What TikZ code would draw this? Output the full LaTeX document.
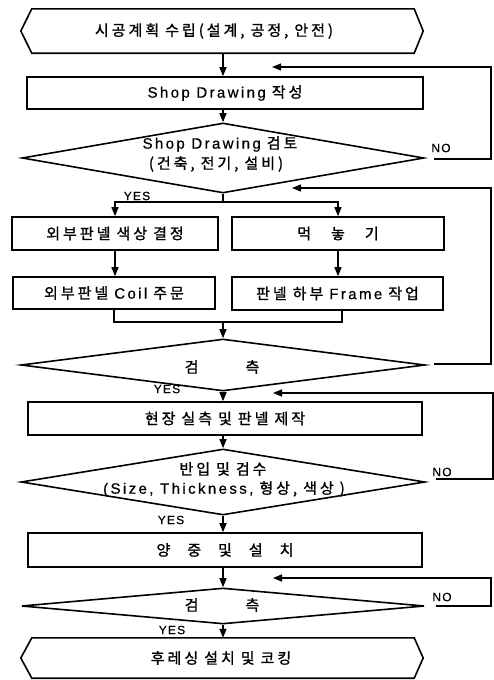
\documentclass[tikz,border=0pt]{standalone}
\usepackage{fontspec}
\setmainfont{Liberation Sans}
\newfontfamily\latfont[LetterSpace=16,FakeBold=0.6]{Liberation Sans}
\newfontfamily\labfont[LetterSpace=10,FakeBold=0.4]{Liberation Sans}
\newfontfamily\krfont[LetterSpace=20,FakeBold=1.2]{Noto Sans CJK KR}
\usetikzlibrary{arrows.meta,shapes.geometric,calc}
\newcommand\LatB{\fontsize{15}{17}\latfont}
\newcommand\KorB[1]{{\fontsize{15}{18}\krfont #1}}
\newcommand\Gap{\hspace{6pt}}
\tikzset{
  outline/.style={draw, line width=1.6pt, inner sep=0pt},
  box/.style={outline, rectangle},
  dia/.style={outline, diamond},
  conn/.style={line width=1.4pt},
  arr/.style={conn, -{Triangle[length=9pt,width=7pt]}},
  txt/.style={inner sep=0pt},
  lab/.style={inner sep=0pt, font=\fontsize{12}{13}\labfont}
}
\begin{document}
\begin{tikzpicture}[x=1pt,y=-1pt]
\useasboundingbox (0,0) rectangle (494,680);
% top terminal
\node[txt, minimum width=382pt, minimum height=44pt] (h1) at (223,31) {};
\draw[line width=1.6pt] (h1.north west) -- (h1.north east) -- ($(h1.east)+(9,0)$) -- (h1.south east) -- (h1.south west) -- ($(h1.west)+(-11,0)$) -- cycle;
\node[txt] (t0) at (214,31) {\KorB{시공계획\Gap 수립(설계,\Gap 공정,\Gap 안전)}};
% box 1
\node[box, minimum width=396pt, minimum height=32pt] (b1) at (225,93) {{\LatB Shop Drawing}\Gap\KorB{작성}};
% diamond 1
\node[dia, minimum width=402pt, minimum height=70pt] (d1) at (223,158) {};
\node[txt] (d1a) at (220,144) {{\LatB Shop Drawing}\Gap\KorB{검토}};
\node[txt] (d1b) at (216,164) {\KorB{(건축,\Gap 전기,\Gap 설비)}};
% split
\node[box, minimum width=206pt, minimum height=33pt] (b2a) at (115,233.5) {\KorB{외부판넬\Gap 색상\Gap 결정}};
\node[box, minimum width=212pt, minimum height=33pt] (b2b) at (338,233.5) {\KorB{먹\hspace{20pt}놓\hspace{20pt}기}};
\node[box, minimum width=202pt, minimum height=32pt] (b3a) at (114,293) {\KorB{외부판넬}\Gap{\LatB Coil}\Gap\KorB{주문}};
\node[box, minimum width=211pt, minimum height=33pt] (b3b) at (337.5,293.5) {\KorB{판넬\Gap 하부}\Gap{\LatB Frame}\Gap\KorB{작업}};
% diamond 2
\node[dia, minimum width=404pt, minimum height=52pt] (d2) at (223,365) {};
\node[txt] (d2a) at (222,367) {\KorB{검\hspace{47pt}측}};
% box 4
\node[box, minimum width=394pt, minimum height=33pt] (b4) at (225,418.5) {\KorB{현장\Gap 실측\Gap 및\Gap 판넬\Gap 제작}};
% diamond 3
\node[dia, minimum width=404pt, minimum height=66pt] (d3) at (223,482) {};
\node[txt] (d3a) at (223,469) {\KorB{반입\Gap 및\Gap 검수}};
\node[txt] (d3b) at (224,489) {{\LatB (Size, Thickness,}\Gap\KorB{형상,\Gap 색상\Gap)}};
% box 5
\node[box, minimum width=394pt, minimum height=34pt] (b5) at (225,550) {\KorB{양\hspace{17pt}중\hspace{17pt}및\hspace{17pt}설\hspace{17pt}치}};
% diamond 4
\node[dia, minimum width=403pt, minimum height=36pt] (d4) at (223,606) {};
\node[txt] (d4a) at (222,605) {\KorB{검\hspace{47pt}측}};
% bottom terminal
\node[txt, minimum width=382pt, minimum height=40pt] (h2) at (223,658) {};
\draw[line width=1.6pt] (h2.north west) -- (h2.north east) -- ($(h2.east)+(9,0)$) -- (h2.south east) -- (h2.south west) -- ($(h2.west)+(-11,0)$) -- cycle;
\node[txt] (t9) at (221,658) {\KorB{후레싱\Gap 설치\Gap 및\Gap 코킹}};
% labels
\node[lab] (y1) at (137,196) {YES};
\node[lab] (y2) at (167,389) {YES};
\node[lab] (y3) at (171,520) {YES};
\node[lab] (y4) at (172,630) {YES};
\node[lab] (n1) at (441,148) {NO};
\node[lab] (n3) at (442,472) {NO};
\node[lab] (n4) at (442,597) {NO};
% main flow
\draw[arr] (h1.south) -- (h1.south |- b1.north);
\draw[arr] (b1.south -| d1.north) -- (d1.north);
\coordinate (j1) at (223,202);
\draw[conn] (d1.south) -- (j1);
\draw[arr] (j1) -| (b2a.north);
\draw[arr] (j1) -| (b2b.north);
\draw[arr] (b2a.south) -- (b2a.south |- b3a.north);
\draw[arr] (b2b.south) -- (b2b.south |- b3b.north);
\coordinate (m1) at (223,322);
\coordinate (m2) at (342,322);
\draw[conn] (b3a.south) |- (m2) -- (m2 |- b3b.south);
\draw[arr] (m1) -- (d2.north);
\draw[arr] (d2.south) -- (d2.south |- b4.north);
\draw[arr] (b4.south -| d3.north) -- (d3.north);
\draw[arr] (d3.south) -- (d3.south |- b5.north);
\draw[arr] (b5.south -| d4.north) -- (d4.north);
\draw[arr] (d4.south) -- (d4.south |- h2.north);
% feedback loops
\coordinate (f1a) at (434,159); \coordinate (f1b) at (491,159); \coordinate (f1t) at (272,67);
\draw[arr] (f1a) -- (f1b) |- (f1t);
\coordinate (f2a) at (434,364); \coordinate (f2b) at (491,364); \coordinate (f2t) at (292,188);
\draw[arr] (f2a) -- (f2b) |- (f2t);
\coordinate (f3a) at (436,479); \coordinate (f3b) at (493,479); \coordinate (f3t) at (273,393);
\draw[arr] (f3a) -- (f3b) |- (f3t);
\coordinate (f4a) at (436,606); \coordinate (f4b) at (491,606); \coordinate (f4t) at (273,578);
\draw[arr] (f4a) -- (f4b) |- (f4t);
\end{tikzpicture}
\end{document}
